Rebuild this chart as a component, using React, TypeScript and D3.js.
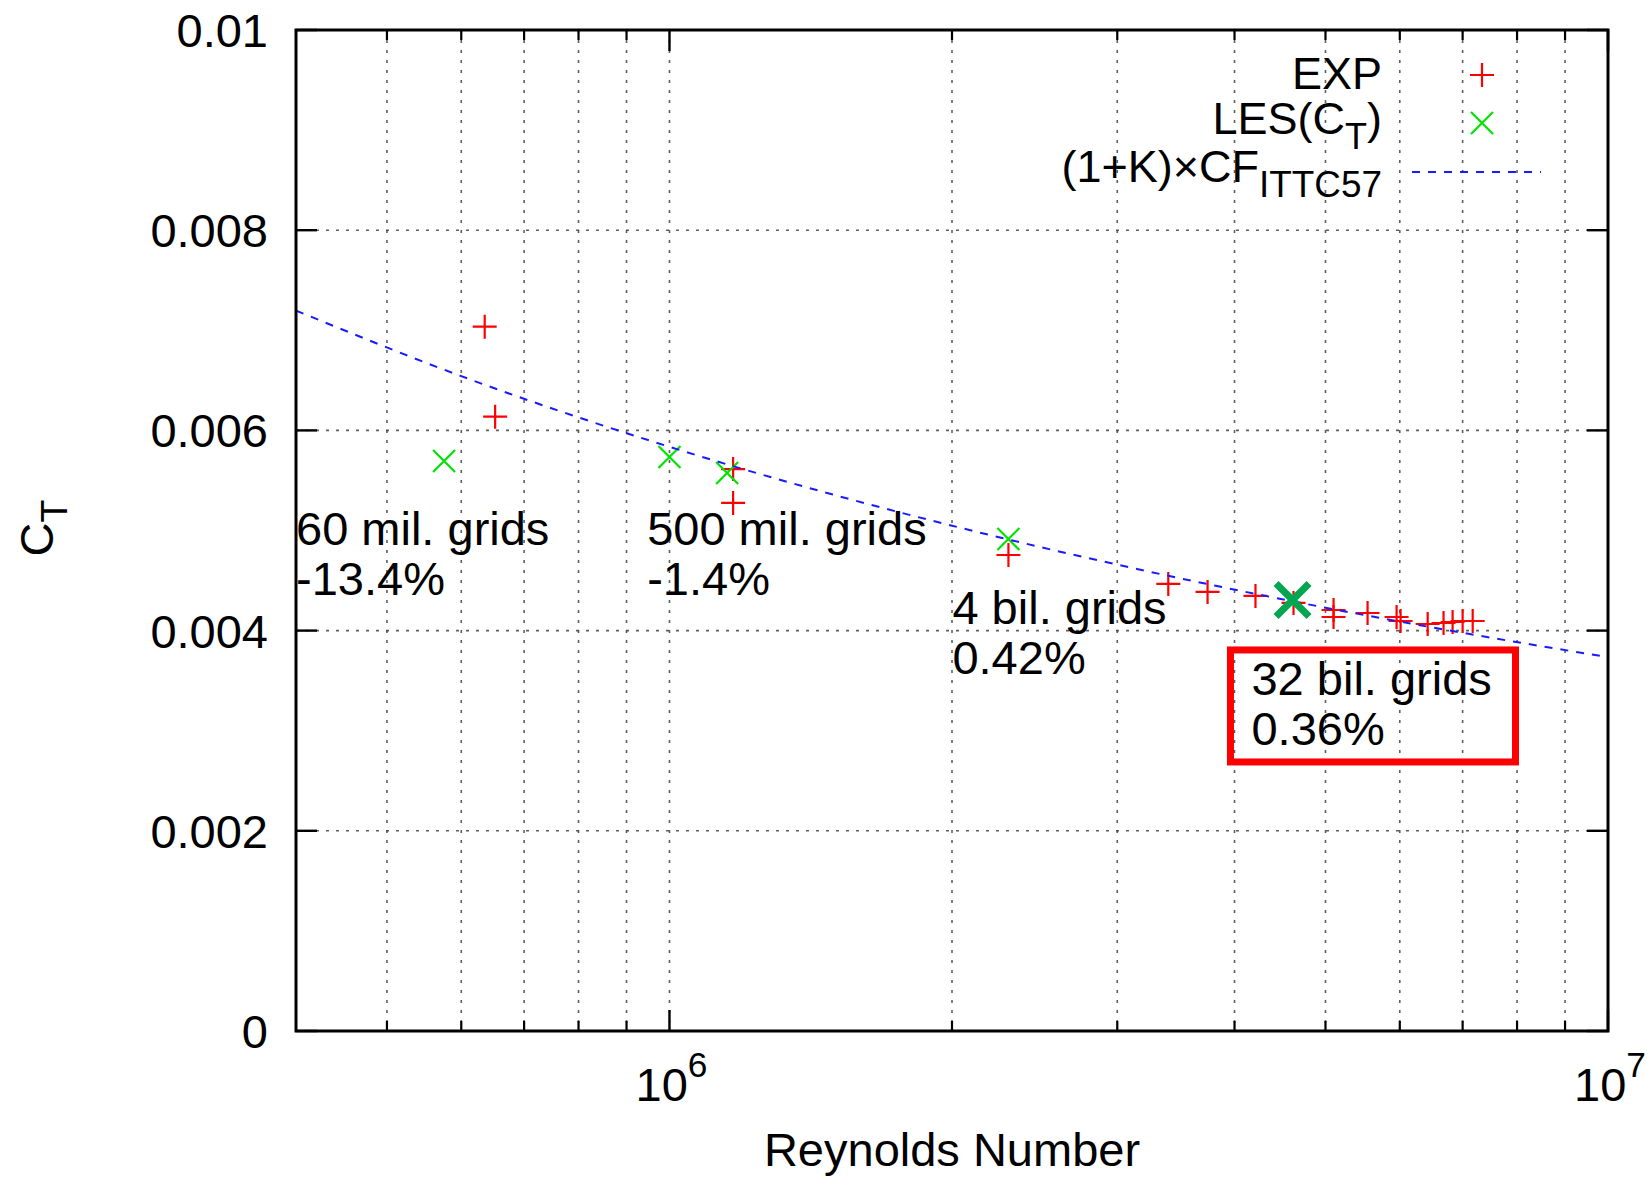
import React from 'react';
import * as d3 from 'd3';

// Total resistance coefficient versus Reynolds number
const WIDTH = 1650;
const HEIGHT = 1179;

const reDomain = [4e5, 1e7];
const ctDomain = [0, 0.01];

const reMajorTicks = [1e6, 1e7];
const reMajorLabels = ['6', '7'];
const reMinorTicks = [5e5, 6e5, 7e5, 8e5, 9e5, 2e6, 3e6, 4e6, 5e6, 6e6, 7e6, 8e6, 9e6];
const ctTicks = [0, 0.002, 0.004, 0.006, 0.008, 0.01];
const ctTickLabels = ['0', '0.002', '0.004', '0.006', '0.008', '0.01'];

// Towing-tank measurements
const expRe = [6.355e5, 6.52e5, 1.169e6, 1.169e6, 2.297e6, 3.40e6, 3.744e6, 4.211e6, 4.623e6, 5.10e6, 5.10e6, 5.544e6, 5.953e6, 6.012e6, 6.425e6, 6.68e6, 6.83e6, 7.0e6, 7.175e6];
const expCT = [0.007036, 0.006137, 0.005614, 0.005275, 0.004755, 0.004466, 0.004386, 0.004346, 0.004276, 0.004206, 0.004136, 0.004176, 0.004136, 0.004096, 0.004066, 0.004076, 0.004086, 0.004096, 0.004096];

// LES results (60 mil., 500 mil. at two Re, 4 bil. grids)
const lesRe = [5.752e5, 1.0e6, 1.152e6, 2.297e6];
const lesCT = [0.005694, 0.005734, 0.005574, 0.004915];

// LES result on the 32 bil. grid
const lesFineRe = [4.612e6];
const lesFineCT = [0.004306];

// (1+K) x CF ITTC-57 friction line
const ittcRe = [4e5, 6e5, 1e6, 1.5e6, 2e6, 3e6, 5e6, 7e6, 1e7];
const ittcCT = [0.007197, 0.006542, 0.005836, 0.005354, 0.005048, 0.004659, 0.004229, 0.003978, 0.003735];

// Grid-size annotations: first line, second line, anchor Re, anchor CT
const noteLine1 = ['60 mil. grids', '500 mil. grids', '4 bil. grids', '32 bil. grids'];
const noteLine2 = ['-13.4%', '-1.4%', '0.42%', '0.36%'];
const noteRe = [4.0e5, 9.467e5, 2.002e6, 4.17e6];
const noteCT = [0.004855, 0.004855, 0.004066, 0.003357];

const FONT = '"Liberation Sans", Arial, Helvetica, sans-serif';
const FS = 47;
const LEGEND_FS = 45;

export default function App() {
  const x = d3.scaleLog().domain(reDomain).range([296, 1608]);
  const y = d3.scaleLinear().domain(ctDomain).range([1031, 30]);
  const [x0, x1] = x.range();
  const [yb, yt] = y.range();

  const ittcPts: [number, number][] = ittcRe.map((r, i) => [x(r), y(ittcCT[i])]);
  const line = d3.line().curve(d3.curveMonotoneX);

  const plus = (cx: number, cy: number, k: string) => (
    <path key={k} d={`M${cx - 12},${cy}H${cx + 12}M${cx},${cy - 12}V${cy + 12}`} stroke="#ff0000" strokeWidth={2.2} fill="none" />
  );
  const cross = (cx: number, cy: number, k: string, r = 11, color = '#00e400', w = 2.2) => (
    <path key={k} d={`M${cx - r},${cy - r}L${cx + r},${cy + r}M${cx - r},${cy + r}L${cx + r},${cy - r}`} stroke={color} strokeWidth={w} fill="none" />
  );

  const gridStyle = { stroke: '#444', strokeWidth: 1.6, strokeDasharray: '3 7', opacity: 0.85 };
  const allReTicks = [...reMinorTicks, ...reMajorTicks];

  const boxIdx = 3;
  const bx = x(noteRe[boxIdx]);
  const by = y(noteCT[boxIdx]);

  return (
    <svg width={WIDTH} height={HEIGHT} style={{ position: 'absolute', left: 0, top: 0, background: '#fff' }} fontFamily={FONT}>
      <rect x={0} y={0} width={WIDTH} height={HEIGHT} fill="#fff" />

      {/* grid */}
      {allReTicks.map((t, i) => (
        <line key={`gx${i}`} x1={x(t)} x2={x(t)} y1={yt} y2={yb} {...gridStyle} />
      ))}
      {ctTicks.slice(1, -1).map((t, i) => (
        <line key={`gy${i}`} x1={x0} x2={x1} y1={y(t)} y2={y(t)} {...gridStyle} />
      ))}

      {/* ticks on all four sides */}
      {reMinorTicks.map((t, i) => (
        <g key={`tm${i}`} stroke="#000" strokeWidth={2.2}>
          <line x1={x(t)} x2={x(t)} y1={yb} y2={yb - 10} />
          <line x1={x(t)} x2={x(t)} y1={yt} y2={yt + 10} />
        </g>
      ))}
      {reMajorTicks.map((t, i) => (
        <g key={`tM${i}`} stroke="#000" strokeWidth={2.4}>
          <line x1={x(t)} x2={x(t)} y1={yb} y2={yb - 21} />
          <line x1={x(t)} x2={x(t)} y1={yt} y2={yt + 21} />
        </g>
      ))}
      {ctTicks.map((t, i) => (
        <g key={`ty${i}`} stroke="#000" strokeWidth={2.4}>
          <line x1={x0} x2={x0 + 21} y1={y(t)} y2={y(t)} />
          <line x1={x1} x2={x1 - 21} y1={y(t)} y2={y(t)} />
        </g>
      ))}

      {/* tick labels */}
      {ctTicks.map((t, i) => (
        <text key={`ly${i}`} x={268} y={y(t)} dy="0.36em" textAnchor="end" fontSize={FS} fill="#000">
          {ctTickLabels[i]}
        </text>
      ))}
      {reMajorTicks.map((t, i) => (
        <text key={`lx${i}`} x={x(t) + 2} y={1101} textAnchor="middle" fontSize={FS} fill="#000">
          10<tspan fontSize={FS * 0.75} dy={-24}>{reMajorLabels[i]}</tspan>
        </text>
      ))}

      {/* axis titles */}
      <text x={(x0 + x1) / 2} y={1166} textAnchor="middle" fontSize={FS} fill="#000">Reynolds Number</text>
      <text transform="translate(53,528) rotate(-90)" textAnchor="middle" fontSize={FS} fill="#000">
        C<tspan fontSize={FS * 0.8} dy={14}>T</tspan>
      </text>

      {/* annotations */}
      {noteLine1.map((s, i) => (
        <g key={`n${i}`} fontSize={FS} fill="#000">
          <text x={x(noteRe[i])} y={y(noteCT[i])}>{s}</text>
          <text x={x(noteRe[i])} y={y(noteCT[i]) + 50}>{noteLine2[i]}</text>
        </g>
      ))}

      {/* data */}
      {expRe.map((r, i) => plus(x(r), y(expCT[i]), `e${i}`))}
      {lesRe.map((r, i) => cross(x(r), y(lesCT[i]), `l${i}`))}
      <path d={line(ittcPts) || ''} fill="none" stroke="#1a1aff" strokeWidth={2} strokeDasharray="8 8" />
      {lesFineRe.map((r, i) => cross(x(r), y(lesFineCT[i]), `f${i}`, 16.5, '#00a650', 7))}

      {/* highlight box */}
      <rect x={bx - 21} y={by - 45} width={285} height={112} fill="none" stroke="#ff0000" strokeWidth={7} />

      {/* legend */}
      <g fontSize={LEGEND_FS} fill="#000" textAnchor="end">
        <text x={1382} y={89}>EXP</text>
        <text x={1382} y={134}>
          LES(C<tspan fontSize={LEGEND_FS * 0.8} dy={15}>T</tspan><tspan dy={-15}>)</tspan>
        </text>
        <text x={1382} y={182}>
          (1+K)×CF<tspan fontSize={LEGEND_FS * 0.82} dy={15}>ITTC57</tspan>
        </text>
      </g>
      {plus(1482, 75, 'kp')}
      {cross(1482, 123, 'kx')}
      <line x1={1412} x2={1541} y1={172} y2={172} stroke="#1a1aff" strokeWidth={2} strokeDasharray="8 8" />

      {/* frame */}
      <rect x={x0} y={yt} width={x1 - x0} height={yb - yt} fill="none" stroke="#000" strokeWidth={3} />
    </svg>
  );
}
